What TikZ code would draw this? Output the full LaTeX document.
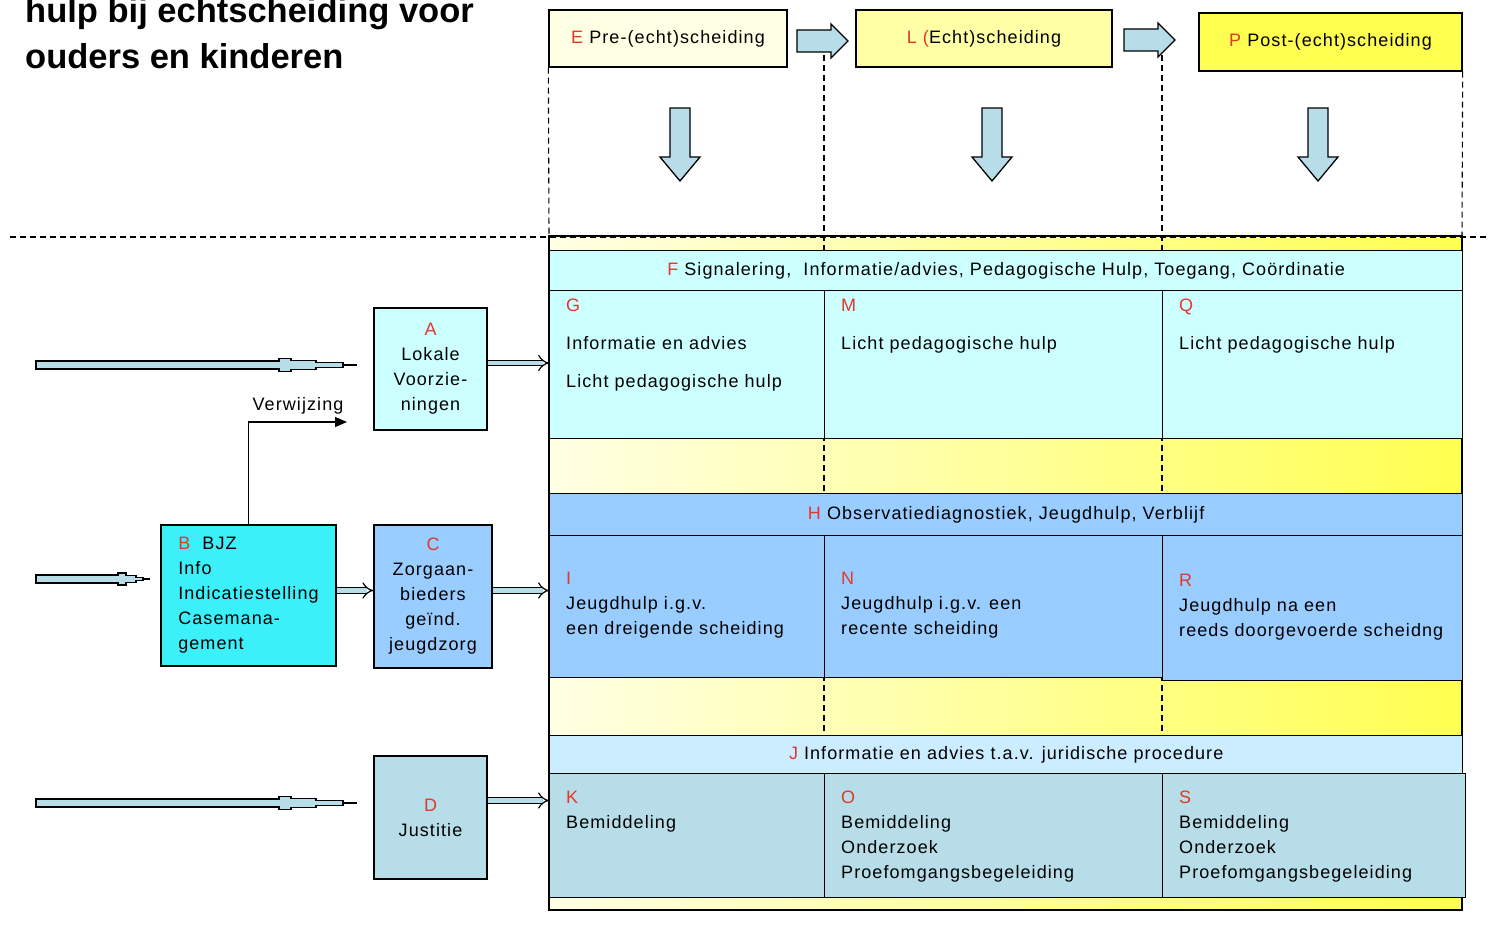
\documentclass[tikz,border=0pt]{standalone}
\usepackage{fontspec}
\setmainfont{Liberation Sans}
\newfontfamily\lblfont{Liberation Sans}[LetterSpace=6]
\usetikzlibrary{arrows.meta,positioning,calc}
\definecolor{keyred}{HTML}{E2382A}
\definecolor{cyanpale}{HTML}{CCFFFF}
\definecolor{cyanbright}{HTML}{3CF0FA}
\definecolor{bluemid}{HTML}{99CCFF}
\definecolor{bluepale}{HTML}{CCECFF}
\definecolor{tealpale}{HTML}{B7DDE8}
\definecolor{yelpale}{HTML}{FFFFE4}
\definecolor{yelmid}{HTML}{FFFFA6}
\definecolor{yelfull}{HTML}{FFFF50}
\newcommand{\cellfont}{\lblfont\fontsize{18}{25}\selectfont}
\newcommand{\keyl}[1]{\textcolor{keyred}{#1}}

\begin{document}
\begin{tikzpicture}[x=1pt,y=-1pt,
  box/.style={draw,line width=1.3pt,inner sep=0pt,font=\cellfont,align=center},
  cell/.style={draw,line width=1.3pt,inner sep=0pt,anchor=north west,font=\cellfont},
  txt/.style={font=\cellfont,inner sep=0pt,align=left,anchor=north west},
  ttl/.style={font=\fontsize{34.5}{40}\selectfont\bfseries,anchor=base west,inner sep=0pt},
  band/.style={draw,line width=1.3pt,left color=yelpale,right color=yelfull},
  blk/.style={draw,line width=1.3pt,fill=tealpale},
  dblarr/.style={double=tealpale,double distance=4.5pt,line width=1.2pt,-{Implies}},
  rod/.style={draw,line width=1.1pt,fill=tealpale},
  guide/.style={dash pattern=on 6pt off 4pt,line width=1.1pt}]
  \useasboundingbox[fill=white] (0,0) rectangle (1490,934);

  % title
  \node[ttl] (t1) at (25,23) {hulp bij echtscheiding voor};
  \node[ttl] (t2) at (25,68) {ouders en kinderen};

  % table background with yellow bands
  \draw[band] (549,236) rectangle (1462,910);

  % phases
  \node[box,fill=yelpale,minimum width=238,minimum height=57] (E) at (668,38.5) {\keyl{E} Pre-(echt)scheiding};
  \node[box,fill=yelmid,minimum width=256,minimum height=57] (L) at (984,38.5) {\keyl{L (}Echt)scheiding};
  \node[box,fill=yelfull,minimum width=263,minimum height=58] (P) at (1330.5,42) {\keyl{P} Post-(echt)scheiding};

  % guide lines
  \draw[guide] (10,237) -- (1490,237);
  \draw[guide] (E.south west) -- (549,237);
  \draw[guide] (P.south east) -- (1462,237);
  \foreach \xx in {824,1162} \draw[guide] (\xx,45) -- (\xx,735);

  \foreach \xa/\yc in {797/41,1124/40}
    \draw[blk] (\xa,\yc-11) -- ++(34,0) -- ++(0,-6) -- (\xa+51,\yc) -- (\xa+34,\yc+17) -- ++(0,-6) -- (\xa,\yc+11) -- cycle;
  \foreach \cx in {680,992,1318}
    \draw[blk] (\cx-10,108) -- (\cx+10,108) -- (\cx+10,157) -- (\cx+20,157) -- (\cx,181) -- (\cx-20,157) -- (\cx-10,157) -- cycle;

  % rows
  \node[cell,fill=cyanpale,minimum width=913,minimum height=40] (F) at (549,250) {\keyl{F} Signalering,\ \ Informatie/advies, Pedagogische Hulp, Toegang, Coördinatie};
  \node[cell,fill=cyanpale,minimum width=275,minimum height=148] (G) at (549,290) {};
  \node[cell,fill=cyanpale,minimum width=338,minimum height=148] (M) at (824,290) {};
  \node[cell,fill=cyanpale,minimum width=300,minimum height=148] (Q) at (1162,290) {};
  \node[txt] (Gt) at (566,299) {\keyl{G}\\[13pt]Informatie en advies\\[13pt]Licht pedagogische hulp};
  \node[txt] (Mt) at (841,299) {\keyl{M}\\[13pt]Licht pedagogische hulp};
  \node[txt] (Qt) at (1179,299) {\keyl{Q}\\[13pt]Licht pedagogische hulp};

  \node[cell,fill=bluemid,minimum width=913,minimum height=42] (H) at (549,493) {\keyl{H} Observatiediagnostiek, Jeugdhulp, Verblijf};
  \node[cell,fill=bluemid,minimum width=275,minimum height=142] (I) at (549,535) {};
  \node[cell,fill=bluemid,minimum width=338,minimum height=142] (N) at (824,535) {};
  \node[cell,fill=bluemid,minimum width=300,minimum height=145] (R) at (1162,535) {};
  \node[txt] (It) at (566,572) {\keyl{I}\\Jeugdhulp i.g.v.\\een dreigende scheiding};
  \node[txt] (Nt) at (841,572) {\keyl{N}\\Jeugdhulp i.g.v. een\\recente scheiding};
  \node[txt] (Rt) at (1179,574) {\keyl{R}\\Jeugdhulp na een\\reeds doorgevoerde scheidng};

  \node[cell,fill=bluepale,minimum width=913,minimum height=38] (J) at (549,735) {\keyl{J} Informatie en advies t.a.v. juridische procedure};
  \node[cell,fill=tealpale,minimum width=275,minimum height=124] (K) at (549,773) {};
  \node[cell,fill=tealpale,minimum width=338,minimum height=124] (O) at (824,773) {};
  \node[cell,fill=tealpale,minimum width=303,minimum height=124] (S) at (1162,773) {};
  \node[txt] (Kt) at (566,791) {\keyl{K}\\Bemiddeling};
  \node[txt] (Ot) at (841,791) {\keyl{O}\\Bemiddeling\\Onderzoek\\Proefomgangsbegeleiding};
  \node[txt] (St) at (1179,791) {\keyl{S}\\Bemiddeling\\Onderzoek\\Proefomgangsbegeleiding};

  % left side
  \node[box,fill=cyanpale,minimum width=113,minimum height=122] (A) at (430.5,369) {\keyl{A}\\Lokale\\Voorzie-\\ningen};
  \node[box,fill=cyanbright,minimum width=175,minimum height=141,align=left] (B) at (248.5,595.5) {\keyl{B}\ \ BJZ\\Info\\Indicatiestelling\\Casemana-\\gement};
  \node[box,fill=bluemid,minimum width=118,minimum height=143] (C) at (433,596.5) {\keyl{C}\\Zorgaan-\\bieders\\geïnd.\\jeugdzorg};
  \node[box,fill=tealpale,minimum width=113,minimum height=123] (D) at (430.5,817.5) {\keyl{D}\\Justitie};

  \draw[dblarr] ([yshift=6pt]A.east) -- ([yshift=6pt]A.east -| G.west);
  \draw[dblarr] ([yshift=5pt]B.east) -- ([yshift=5pt]B.east -| C.west);
  \draw[dblarr] ([yshift=6pt]C.east) -- ([yshift=6pt]C.east -| I.west);
  \draw[dblarr] ([yshift=17pt]D.east) -- ([yshift=17pt]D.east -| K.west);

  \coordinate (vz) at (347,422);
  \draw[line width=1.2pt,-{Triangle[length=12pt,width=10pt]}] (B.north) |- (vz);
  \node[font=\cellfont,inner sep=0pt] (vlab) at (298,406) {Verwijzing};

  % incoming rods
  \foreach \yy in {365,803} {
    \draw[rod] (36,\yy-4) -- (279,\yy-4) -- (279,\yy-6.5) -- (291,\yy-6.5) -- (291,\yy-4.5) -- (316,\yy-4.5) -- (316,\yy-2.5) -- (343,\yy-2.5)
      -- (343,\yy+2.5) -- (316,\yy+2.5) -- (316,\yy+4.5) -- (291,\yy+4.5) -- (291,\yy+6.5) -- (279,\yy+6.5) -- (279,\yy+4) -- (36,\yy+4) -- cycle;
    \draw[line width=1.1pt] (343,\yy) -- (357,\yy);
  }
  \draw[rod] (36,575) -- (118,575) -- (118,573) -- (126,573) -- (126,575.5) -- (136,575.5) -- (136,577.5) -- (143,577.5)
    -- (143,580.5) -- (136,580.5) -- (136,582.5) -- (126,582.5) -- (126,585) -- (118,585) -- (118,583) -- (36,583) -- cycle;
  \draw[line width=1.1pt] (143,579) -- (150,579);
\end{tikzpicture}
\end{document}
